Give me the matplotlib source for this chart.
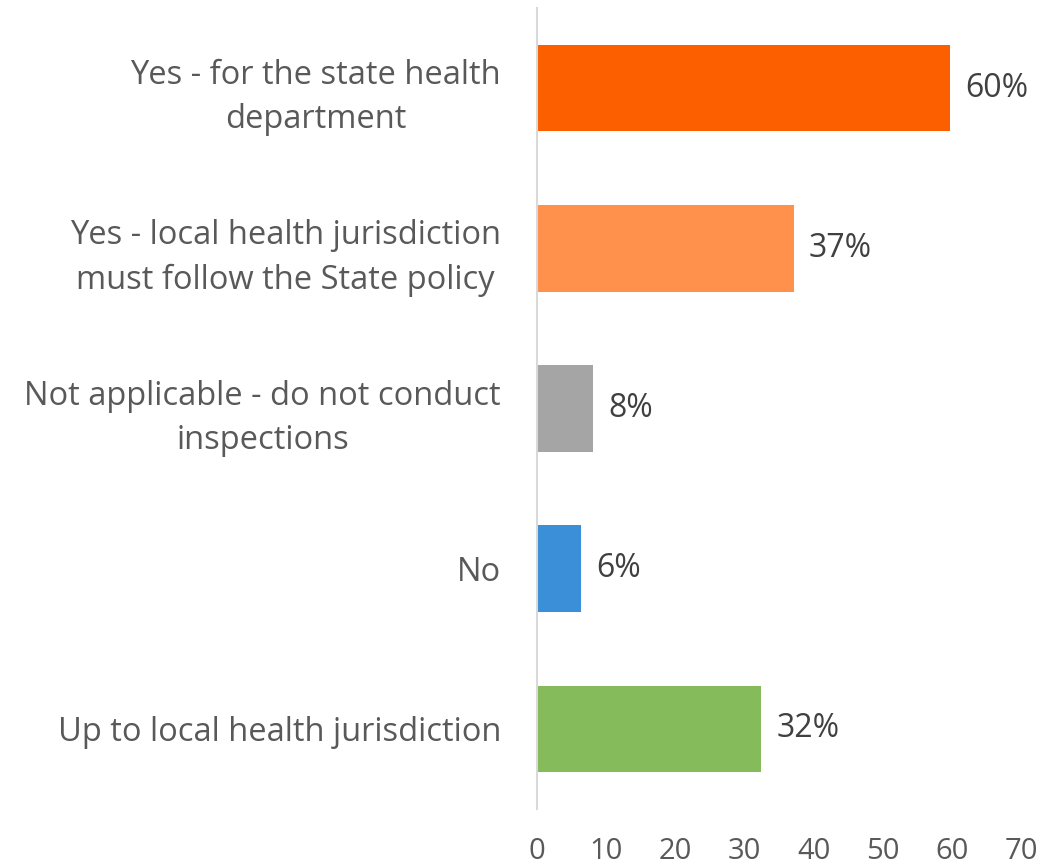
import matplotlib
matplotlib.use("Agg")
import matplotlib.pyplot as plt

categories = [
    "Yes - for the state health\ndepartment",
    "Yes - local health jurisdiction\nmust follow the State policy",
    "Not applicable - do not conduct\ninspections",
    "No",
    "Up to local health jurisdiction",
]
values = [59.7, 37.1, 8.1, 6.4, 32.4]
colors = ["#FB5F00", "#FF914D", "#A5A5A5", "#3A8FD8", "#86BB5C"]
xticks = [0, 10, 20, 30, 40, 50, 60, 70]

plt.rcParams['font.family'] = ['Open Sans', 'DejaVu Sans']

fig = plt.figure(figsize=(10.43, 8.65), dpi=100)
ax = fig.add_axes([537/1043, 1-809/865, (1021-537)/1043, 801/865])

y = list(range(len(categories)))
ax.barh(y, values, height=0.54, color=colors, zorder=2)
ax.set_ylim(len(categories)-0.5, -0.5)
ax.set_xlim(0, 70)
ax.set_xticks(xticks)
ax.set_yticks(y)
ax.set_yticklabels(categories, ha='right', multialignment='center',
                   fontsize=23.5, color="#595959", linespacing=1.45)
ax.tick_params(axis='y', length=0, pad=26)
ax.tick_params(axis='x', length=0, pad=20, labelsize=21, labelcolor="#595959")

for yi, v in zip(y, values):
    ax.text(v + 2.2, yi, f"{v:.0f}%", va='center', ha='left', fontsize=23, color="#404040")

for s in ['top', 'right', 'bottom']:
    ax.spines[s].set_visible(False)
ax.spines['left'].set_color("#D9D9D9")
ax.spines['left'].set_linewidth(1.5)

fig.savefig("out.png", dpi=100)
